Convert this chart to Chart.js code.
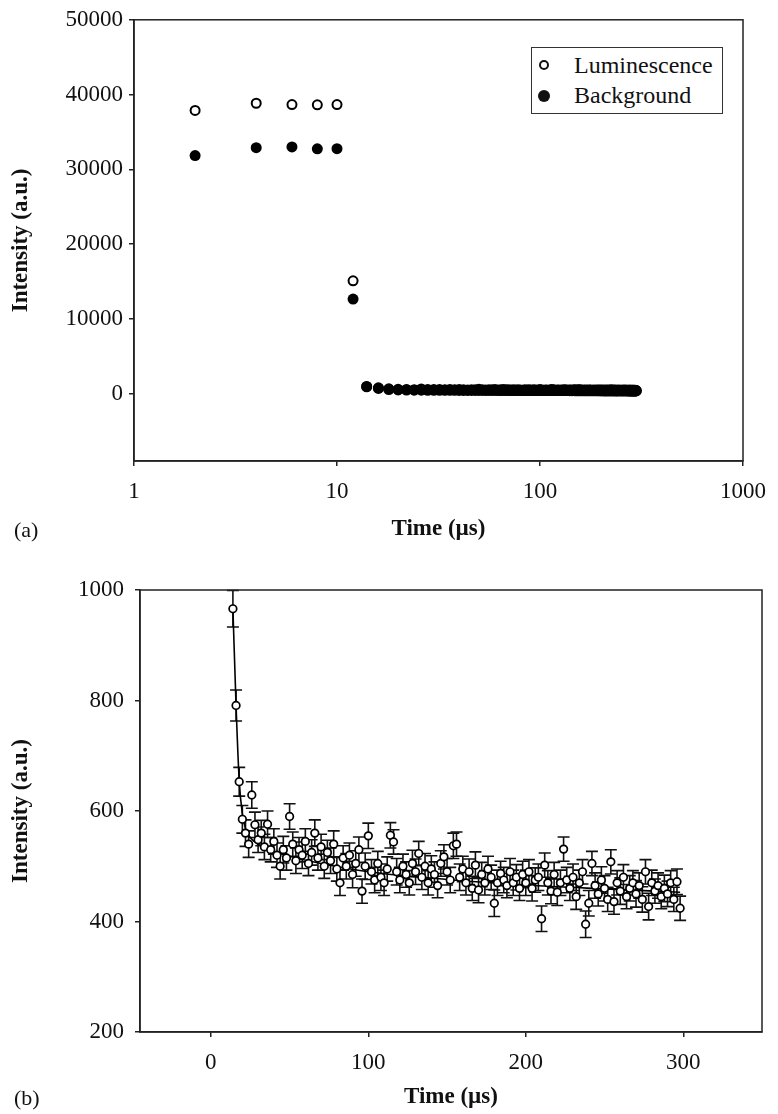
<!DOCTYPE html>
<html><head><meta charset="utf-8">
<script src="https://cdn.jsdelivr.net/npm/chart.js@4"></script>
<style>
html,body{margin:0;padding:0;background:#fff;}
body{width:778px;height:1114px;position:relative;overflow:hidden;font-family:"Liberation Serif",serif;color:#111;}
#c1{position:absolute;left:0;top:0;}
#c2{position:absolute;left:0;top:560px;}
.panel{position:absolute;left:14px;font-size:22px;line-height:24px;}
#legend{position:absolute;left:531px;top:47px;width:190px;height:65px;border:1.5px solid #333;background:#fff;}
#legend .row{position:absolute;left:0;width:190px;height:24px;}
#legend .txt{position:absolute;left:42px;top:0;font-size:24px;line-height:24px;white-space:nowrap;}
#legend .mk{position:absolute;border-radius:50%;box-sizing:border-box;}
</style>
</head><body>
<canvas id="c1" width="778" height="560"></canvas>
<canvas id="c2" width="778" height="554"></canvas>
<div class="panel" style="top:518px">(a)</div>
<div class="panel" style="top:1086px">(b)</div>
<div id="legend">
  <div class="row" style="top:5px"><div class="mk" style="left:7px;top:7px;width:10px;height:10px;border:2px solid #111;background:#fff"></div><div class="txt">Luminescence</div></div>
  <div class="row" style="top:35px"><div class="mk" style="left:6px;top:7px;width:12px;height:12px;background:#111"></div><div class="txt">Background</div></div>
</div>
<script>
// ---------- data ----------
const earlyTimes = [2, 4, 6, 8, 10, 12];
const earlyLum = [37875, 38840, 38670, 38630, 38670, 15100];
const earlyBg = [31850, 32900, 33000, 32740, 32770, 12660];

const times = [
  14,16,18,20,22,24,26,28,30,32,
  34,36,38,40,42,44,46,48,50,52,
  54,56,58,60,62,64,66,68,70,72,
  74,76,78,80,82,84,86,88,90,92,
  94,96,98,100,102,104,106,108,110,112,
  114,116,118,120,122,124,126,128,130,132,
  134,136,138,140,142,144,146,148,150,152,
  154,156,158,160,162,164,166,168,170,172,
  174,176,178,180,182,184,186,188,190,192,
  194,196,198,200,202,204,206,208,210,212,
  214,216,218,220,222,224,226,228,230,232,
  234,236,238,240,242,244,246,248,250,252,
  254,256,258,260,262,264,266,268,270,272,
  274,276,278,280,282,284,286,288,290,292,
  294,296,298];

const lumValues = [
  966,791,653,585,560,540,629,575,548,560,
  535,576,530,545,520,500,530,515,590,540,
  510,530,520,545,505,525,560,515,535,500,
  525,510,540,495,470,515,500,520,485,505,
  530,455,500,555,490,475,505,480,470,495,
  556,544,490,475,500,485,470,505,490,523,
  480,500,470,495,485,465,505,517,490,475,
  537,540,480,495,470,490,460,502,457,485,
  470,495,480,433,470,487,475,465,490,470,
  480,460,485,470,490,460,475,480,405,502,
  470,455,485,453,470,531,475,460,480,445,
  470,490,395,433,505,465,450,475,460,440,
  508,436,470,455,480,445,460,470,450,465,
  440,490,427,470,455,465,445,460,450,470,
  440,472,424];

const lumErrors = [
  33,28,26,25,24,24,24,23,23,23,
  23,24,22,23,22,23,24,22,23,22,
  23,22,24,23,22,23,24,22,23,22,
  22,23,24,22,23,22,23,22,24,23,
  23,22,24,23,22,23,22,24,23,22,
  23,22,24,23,22,23,22,24,23,22,
  22,23,22,24,23,22,23,22,24,23,
  23,22,24,23,22,23,22,24,23,22,
  22,23,22,24,23,22,23,22,24,23,
  23,22,24,23,22,23,22,24,23,22,
  22,23,22,24,23,22,23,22,24,23,
  23,22,24,23,22,23,22,24,23,22,
  22,23,22,24,23,22,23,22,24,23,
  23,22,24,23,22,23,22,24,23,22,
  22,23,22];

const bgValues = [
  930,700,560,500,480,470,465,460,455,452,
  450,448,446,444,442,440,438,437,436,435,
  434,436,432,430,433,429,431,428,430,427,
  428,426,429,425,427,424,426,423,425,422,
  424,421,423,420,422,419,421,418,420,417,
  419,416,418,415,417,414,416,413,415,412,
  414,411,413,410,412,409,411,408,410,407,
  409,406,408,405,407,404,406,403,405,402,
  404,401,403,400,402,399,401,398,400,397,
  399,396,398,395,397,394,396,393,395,392,
  394,391,393,390,392,389,391,388,390,387,
  389,386,388,385,387,384,386,383,385,382,
  384,381,383,380,382,379,381,378,380,377,
  379,376,378,375,377,374,376,373,375,372,
  374,371,373];

const fitTimes = [14, 16, 18, 20, 22, 25, 30, 40, 50, 70, 100, 150, 200, 250, 298];
const fitValues = [966, 791, 655, 595, 568, 552, 540, 527, 518, 505, 490, 476, 466, 459, 453];

const xTicksA = [1, 10, 100, 1000];
const yTicksA = [0, 10000, 20000, 30000, 40000, 50000];
const xTicksB = [0, 100, 200, 300];
const yTicksB = [200, 400, 600, 800, 1000];

// ---------- helpers ----------
const FONT = 'Liberation Serif';
const INK = '#111';
const toPts = (xs, ys) => xs.map((x, i) => ({x: x, y: ys[i]}));

const frame = {
  id: 'frame',
  afterDraw(chart) {
    const {ctx, chartArea: a} = chart;
    ctx.save();
    ctx.strokeStyle = '#222';
    ctx.lineWidth = 1.5;
    ctx.strokeRect(a.left, a.top, a.right - a.left, a.bottom - a.top);
    ctx.restore();
  }
};

function axis(extra, tickPad) {
  return Object.assign({
    border: {display: true, color: '#222', width: 1.5},
    grid: {display: true, drawOnChartArea: false, drawTicks: true, tickLength: 5, color: '#222', lineWidth: 1.5},
    ticks: {color: INK, font: {family: FONT, size: 23}, padding: tickPad, maxRotation: 0, autoSkip: false,
            callback: v => String(v)}
  }, extra);
}

// ---------- chart (a) ----------
new Chart(document.getElementById('c1'), {
  type: 'scatter',
  data: {
    datasets: [
      {
        label: 'Background',
        data: toPts(earlyTimes.concat(times), earlyBg.concat(bgValues)),
        pointStyle: 'circle', pointRadius: 5.5, pointBorderWidth: 0,
        backgroundColor: '#000', borderColor: '#000', order: 0
      },
      {
        label: 'Luminescence',
        data: toPts(earlyTimes.concat(times), earlyLum.concat(lumValues)),
        pointStyle: 'circle', pointRadius: 4.5, pointBorderWidth: 2,
        backgroundColor: '#fff', borderColor: '#000', order: 1
      }
    ]
  },
  options: {
    responsive: false, animation: false, devicePixelRatio: 1,
    layout: {padding: {top: 17, right: 23, left: 0, bottom: 0}},
    plugins: {legend: {display: false}, tooltip: {enabled: false}},
    scales: {
      x: axis({
        type: 'logarithmic', min: 1, max: 1000,
        afterBuildTicks: s => { s.ticks = xTicksA.map(v => ({value: v})); },
        afterFit: s => { s.height = 99; },
        title: {display: true, text: 'Time (µs)', color: INK, font: {family: FONT, size: 23, weight: 'bold'}, padding: {top: 0, bottom: 17}}
      }, 12),
      y: axis({
        type: 'linear', min: -9000, max: 50000,
        afterBuildTicks: s => { s.ticks = yTicksA.map(v => ({value: v})); },
        afterFit: s => { s.width = 134; },
        title: {display: true, text: 'Intensity (a.u.)', color: INK, font: {family: FONT, size: 23, weight: 'bold'}, padding: {top: 7, bottom: 0}}
      }, 6)
    }
  },
  plugins: [frame]
});

// ---------- chart (b) ----------
const errBars = {
  id: 'errBars',
  beforeDatasetsDraw(chart) {
    const {ctx, chartArea: a, scales: {x: xs, y: ys}} = chart;
    ctx.save();
    ctx.beginPath();
    ctx.rect(a.left, a.top - 1, a.right - a.left, a.bottom - a.top + 1);
    ctx.clip();
    ctx.strokeStyle = INK;
    ctx.lineWidth = 1.6;
    times.forEach((t, i) => {
      const px = xs.getPixelForValue(t);
      const yt = ys.getPixelForValue(lumValues[i] + lumErrors[i]);
      const yb = ys.getPixelForValue(lumValues[i] - lumErrors[i]);
      ctx.beginPath();
      ctx.moveTo(px, yt); ctx.lineTo(px, yb);
      ctx.moveTo(px - 6, yt); ctx.lineTo(px + 6, yt);
      ctx.moveTo(px - 6, yb); ctx.lineTo(px + 6, yb);
      ctx.stroke();
    });
    ctx.restore();
  }
};

new Chart(document.getElementById('c2'), {
  type: 'scatter',
  data: {
    datasets: [
      {
        label: 'Luminescence',
        data: toPts(times, lumValues),
        pointStyle: 'circle', pointRadius: 3.8, pointBorderWidth: 1.7,
        backgroundColor: '#fff', borderColor: '#000', order: 0
      },
      {
        label: 'Fit',
        data: toPts(fitTimes, fitValues),
        showLine: true, pointRadius: 0, borderColor: '#000', borderWidth: 1.6,
        cubicInterpolationMode: 'monotone', order: 1
      }
    ]
  },
  options: {
    responsive: false, animation: false, devicePixelRatio: 1,
    layout: {padding: {top: 30, right: 16, left: 0, bottom: 0}},
    plugins: {legend: {display: false}, tooltip: {enabled: false}},
    scales: {
      x: axis({
        type: 'linear', min: -45, max: 350,
        afterBuildTicks: s => { s.ticks = xTicksB.map(v => ({value: v})); },
        afterFit: s => { s.height = 82; },
        title: {display: true, text: 'Time (µs)', color: INK, font: {family: FONT, size: 23, weight: 'bold'}, padding: {top: 0, bottom: 3}}
      }, 12),
      y: axis({
        type: 'linear', min: 200, max: 1000,
        afterBuildTicks: s => { s.ticks = yTicksB.map(v => ({value: v})); },
        afterFit: s => { s.width = 140; },
        title: {display: true, text: 'Intensity (a.u.)', color: INK, font: {family: FONT, size: 23, weight: 'bold'}, padding: {top: 7, bottom: 0}}
      }, 11)
    }
  },
  plugins: [frame, errBars]
});
</script>
</body></html>
